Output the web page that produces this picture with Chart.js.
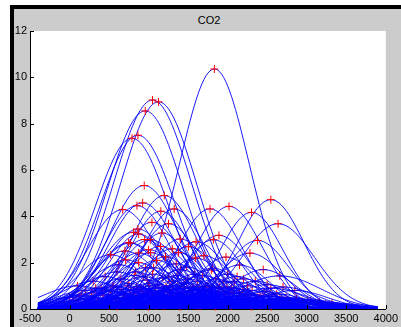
<!DOCTYPE html>
<html>
<head>
<meta charset="utf-8">
<script src="https://cdn.jsdelivr.net/npm/chart.js@4.4.1/dist/chart.umd.min.js"></script>
<style>
  html, body { margin:0; padding:0; background:#ffffff; width:401px; height:327px; overflow:hidden; }
  #frame { position:absolute; left:10px; top:5px; width:391px; height:322px; box-sizing:border-box;
           border-left:4px solid #000; border-top:4px solid #000; background:#cccccc; }
  #title { position:absolute; left:30px; width:358px; top:13px; text-align:center;
           font-family:"Liberation Sans", Arial, sans-serif; font-size:11px; line-height:14px; color:#000; }
  #c { position:absolute; left:0; top:0; }
</style>
</head>
<body>
<div id="frame"></div>
<div id="title">CO2</div>
<canvas id="c" width="401" height="327"></canvas>
<script>
// ---- tick labels ----
const xTicks = [-500, 0, 500, 1000, 1500, 2000, 2500, 3000, 3500, 4000];
const yTicks = [0, 2, 4, 6, 8, 10, 12];

// ---- sampled x range of every curve ----
const curveStart = -400;
const curveEnd = 3900;
const curveStep = 25;

// ---- each curve: peak position, peak height (red +), spread ----
const peakX = [
  // prominent peaks
  1832,1050,1126,958,865,790,945,1198,925,672,
  853,1155,1324,1777,2017,2302,2546,2638,1042,1252,
  865,810,874,1168,1400,1021,769,1890,1819,2377,
  1979,2282,2660,2546,2660,2084,1810,
  // mid group
  747,874,1000,710,521,874,836,962,621,1025,
  1378,1592,1214,1063,1403,1252,1479,1088,1504,1479,
  1794,1630,1300,1150,950,700,1600,1700,1350,600,
  1100,2150,2000,2450,2200,
  // low group
  300,450,550,650,750,820,900,980,1050,1120,
  1180,1230,1300,1360,1420,1500,1550,1620,1680,1750,
  1850,1900,1950,2050,2120,2250,2350,2500,2700,2850,
  400,200,100,1000,850,1450,1580,1700,1270,930,
  // lower group
  50,120,190,260,330,380,440,500,560,610,
  660,700,740,780,810,850,890,930,970,1010,
  1050,1090,1130,1160,1190,1220,1260,1300,1340,1370,
  1410,1450,1490,1520,1560,1600,1640,1680,1720,1760,
  1800,1840,1880,1910,1950,1990,2030,2070,2110,2150,
  2190,2230,2270,2310,2360,2410,2460,2510,2560,2620,
  2680,2740,2800,2870,2940,3010,3080,3160,3240,3320,
  600,800,1000,1200,1400,1650,1850,2050,2300,2550,
  // lowest group
  0,80,150,220,280,350,420,480,520,580,
  630,680,720,770,800,840,880,920,960,1000,
  1040,1080,1110,1140,1170,1200,1240,1280,1320,1350,
  1390,1430,1470,1510,1540,1580,1610,1650,1700,1740,
  1780,1820,1870,1920,1960,2010,2060,2100,2160,2200,
  2260,2320,2380,2440,2520,2600,2680,2760,2850,2950,
  3050,3150,900,1300,1600,1100,700,2000,500,2400
];
const peakY = [
  10.36,9.02,8.94,8.55,7.50,7.37,5.33,4.90,4.58,4.29,
  4.46,4.22,4.32,4.32,4.43,4.17,4.72,3.68,3.74,3.68,
  3.45,3.31,3.24,3.28,3.02,2.99,2.85,3.18,2.99,2.96,
  2.24,2.41,1.43,0.90,0.42,1.18,1.76,

  2.86,2.42,2.56,2.12,2.34,2.00,1.60,1.78,1.91,2.43,
  2.43,2.20,2.25,1.78,1.69,1.39,1.13,0.91,2.69,1.82,
  1.69,0.82,2.60,2.70,3.00,2.50,2.90,2.30,1.95,1.60,
  2.10,1.90,1.50,1.70,1.30,

  1.20,1.40,1.00,1.30,1.10,1.45,0.90,1.25,1.50,1.05,
  1.35,0.85,1.20,1.45,0.95,1.30,0.90,1.20,1.45,1.00,
  1.30,0.95,1.20,0.90,1.40,1.00,1.20,1.05,0.95,0.80,
  0.90,0.80,1.00,1.10,0.85,1.10,1.50,0.85,1.00,1.40,

  0.35,0.55,0.25,0.45,0.90,0.30,0.80,0.50,0.95,0.40,
  0.85,0.60,1.00,0.45,0.70,0.95,0.55,0.85,0.65,1.00,
  0.50,0.90,0.60,0.80,0.45,0.95,0.70,0.85,0.55,1.00,
  0.60,0.90,0.50,0.80,0.95,0.55,0.85,0.70,0.95,0.50,
  0.80,0.60,0.90,0.45,0.75,0.95,0.55,0.80,0.40,0.70,
  0.85,0.45,0.65,0.80,0.40,0.60,0.75,0.35,0.55,0.65,
  0.40,0.50,0.30,0.45,0.35,0.40,0.25,0.30,0.20,0.25,
  0.10,0.12,0.10,0.12,0.10,0.12,0.10,0.12,0.10,0.10,

  0.50,0.30,0.60,0.40,0.70,0.35,0.60,0.25,0.75,0.45,
  0.30,0.65,0.50,0.80,0.35,0.60,0.45,0.75,0.30,0.55,
  0.70,0.40,0.65,0.25,0.55,0.75,0.40,0.60,0.30,0.70,
  0.45,0.60,0.35,0.75,0.50,0.30,0.65,0.45,0.60,0.35,
  0.70,0.45,0.55,0.30,0.65,0.45,0.70,0.35,0.55,0.40,
  0.60,0.30,0.50,0.40,0.55,0.30,0.45,0.35,0.40,0.30,
  0.35,0.25,0.20,0.20,0.15,0.15,0.20,0.20,0.15,0.15
];
const spread = [
  440,490,480,480,470,460,440,420,430,440,
  420,400,400,410,420,400,420,460,400,390,
  400,420,380,380,380,400,420,400,380,400,
  380,420,520,450,400,400,380,

  400,380,390,380,420,360,360,370,400,380,
  380,380,370,360,360,350,340,330,380,360,
  360,330,380,400,410,430,400,380,360,400,
  380,380,360,400,380,

  400,380,350,360,340,350,320,340,350,330,
  340,320,330,340,320,340,320,340,350,330,
  340,330,350,340,360,360,380,400,420,420,
  360,380,420,330,320,330,350,320,320,340,

  380,360,340,350,380,300,360,320,370,300,
  360,320,370,300,330,360,310,350,320,360,
  310,350,320,340,300,360,330,350,310,360,
  320,350,310,340,360,320,350,330,360,310,
  350,320,360,300,340,360,320,350,300,340,
  360,320,340,360,320,350,370,330,360,380,
  370,390,360,400,390,420,400,420,420,440,
  300,300,300,300,300,300,300,300,300,300,

  350,300,350,320,360,300,330,280,340,300,
  280,320,300,330,280,300,290,320,270,300,
  310,280,300,260,290,310,280,300,270,300,
  290,300,280,320,300,280,310,300,310,290,
  320,300,310,290,320,310,330,300,320,310,
  340,310,340,330,360,340,370,360,380,380,
  400,400,260,260,250,250,270,280,300,300
];

// markers of peaks lower than this sit under the curves (hidden in the dense band)
const coveredBelow = 2.0;

// ---- build datasets ----
const datasets = [];
const topMarks = [], lowMarks = [];
peakX.forEach((x, i) => {
  (peakY[i] >= coveredBelow ? topMarks : lowMarks).push({ x: x, y: peakY[i] });
});
const markerStyle = {
  showLine: false, pointStyle: 'cross', pointRadius: 4, pointBorderWidth: 1,
  borderColor: '#ff0000', backgroundColor: '#ff0000', clip: false
};
datasets.push(Object.assign({ data: topMarks, order: 0 }, markerStyle));
for (let i = 0; i < peakX.length; i++) {
  const pts = [];
  for (let x = curveStart; x <= curveEnd; x += curveStep) {
    const d = (x - peakX[i]) / spread[i];
    pts.push({ x: x, y: peakY[i] * Math.exp(-0.5 * d * d) });
  }
  datasets.push({
    data: pts, showLine: true, borderColor: '#0000ff', borderWidth: 0.9,
    pointRadius: 0, tension: 0, order: 1
  });
}
datasets.push(Object.assign({ data: lowMarks, order: 2 }, markerStyle));

const axisFont = { family: '"Liberation Sans", Arial, sans-serif', size: 11 };

const plotBg = {
  id: 'plotBg',
  beforeDraw(chart) {
    const a = chart.chartArea, ctx = chart.ctx;
    ctx.save();
    ctx.fillStyle = '#ffffff';
    ctx.fillRect(a.left, a.top, a.right - a.left, a.bottom - a.top);
    ctx.restore();
  }
};
const inwardTicks = {
  id: 'inwardTicks',
  afterDraw(chart) {
    const a = chart.chartArea, ctx = chart.ctx;
    const xs = chart.scales.x, ys = chart.scales.y;
    ctx.save();
    ctx.strokeStyle = '#000000';
    ctx.lineWidth = 1;
    ctx.beginPath();
    xTicks.forEach(v => {
      const px = Math.round(xs.getPixelForValue(v)) + 0.5;
      ctx.moveTo(px, a.bottom);
      ctx.lineTo(px, a.bottom - 4);
    });
    yTicks.forEach(v => {
      const py = Math.round(ys.getPixelForValue(v)) + 0.5;
      ctx.moveTo(a.left, py);
      ctx.lineTo(a.left + 4, py);
    });
    ctx.stroke();
    ctx.restore();
  }
};

new Chart(document.getElementById('c'), {
  type: 'scatter',
  data: { datasets: datasets },
  options: {
    responsive: false,
    animation: false,
    devicePixelRatio: 1,
    events: [],
    layout: { padding: { left: 0, top: 31, right: 13, bottom: 0 } },
    plugins: { legend: { display: false }, tooltip: { enabled: false }, title: { display: false } },
    scales: {
      x: {
        type: 'linear', min: -500, max: 4000,
        afterBuildTicks: s => { s.ticks = xTicks.map(v => ({ value: v })); },
        afterFit: s => { s.height = 18; },
        grid: { display: false, drawTicks: false },
        border: { display: true, color: '#000000', width: 1 },
        ticks: { font: axisFont, color: '#000000', padding: 3, maxRotation: 0, autoSkip: false,
                 callback: v => String(v) }
      },
      y: {
        type: 'linear', min: 0, max: 12,
        afterBuildTicks: s => { s.ticks = yTicks.map(v => ({ value: v })); },
        afterFit: s => { s.width = 30; },
        grid: { display: false, drawTicks: false },
        border: { display: true, color: '#000000', width: 1 },
        ticks: { font: axisFont, color: '#000000', padding: 3, autoSkip: false,
                 callback: v => String(v) }
      }
    }
  },
  plugins: [plotBg, inwardTicks]
});
</script>
</body>
</html>
